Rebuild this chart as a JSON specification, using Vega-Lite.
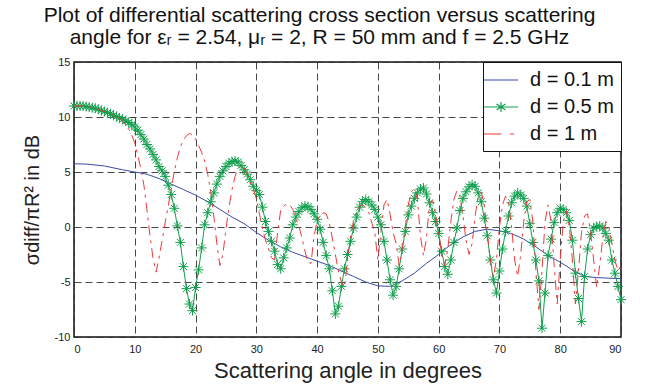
{
"$schema": "https://vega.github.io/schema/vega-lite/v6.json",
"width": 547, "height": 275,
"autosize": "none",
"padding": {"left": 74, "top": 62, "right": 31, "bottom": 48},
"background": "white",
"title": {"text": ["Plot of differential scattering cross section versus scattering", "angle for εᵣ = 2.54, μᵣ = 2, R = 50 mm and f = 2.5 GHz"], "font": "Liberation Sans", "fontSize": 21, "fontWeight": "normal", "color": "#111", "anchor": "middle", "dx": -28, "offset": 8, "lineHeight": 22},
"config": {
  "view": {"stroke": "#111", "strokeWidth": 1.5},
  "axis": {"labelFont": "Liberation Sans", "titleFont": "Liberation Sans", "labelFontSize": 11, "labelColor": "#222", "titleColor": "#222", "titleFontWeight": "normal", "grid": true, "gridColor": "#333", "gridDash": [7, 4], "gridWidth": 1, "gridOpacity": 0.9, "domain": false, "ticks": false},
  "legend": {"orient": "top-right", "offset": 0, "padding": 7, "strokeColor": "#111", "fillColor": "white", "labelFont": "Liberation Sans", "labelFontSize": 20, "labelColor": "#111", "symbolSize": 400, "rowPadding": 6, "labelOffset": 18}
},
"datasets": {
"blue": [
{"angle":0,"value":5.75},{"angle":2,"value":5.72},{"angle":5,"value":5.55},{"angle":8,"value":5.2},{"angle":10,"value":5.0},{"angle":12,"value":4.8},{"angle":14,"value":4.4},{"angle":16,"value":3.9},{"angle":18,"value":3.4},{"angle":20,"value":2.9},{"angle":22,"value":2.3},{"angle":24,"value":1.6},{"angle":26,"value":0.9},{"angle":28,"value":0.3},{"angle":30,"value":-0.5},{"angle":32,"value":-1.2},{"angle":34,"value":-1.8},{"angle":36,"value":-2.3},{"angle":38,"value":-2.7},{"angle":40,"value":-3.1},{"angle":42,"value":-3.5},{"angle":44,"value":-4.0},{"angle":46,"value":-4.5},{"angle":48,"value":-5.0},{"angle":50,"value":-5.35},{"angle":52,"value":-5.4},{"angle":54,"value":-4.9},{"angle":56,"value":-4.2},{"angle":58,"value":-3.3},{"angle":60,"value":-2.5},{"angle":62,"value":-1.6},{"angle":64,"value":-0.9},{"angle":66,"value":-0.4},{"angle":68,"value":-0.2},{"angle":70,"value":-0.35},{"angle":72,"value":-0.6},{"angle":74,"value":-1.1},{"angle":76,"value":-1.8},{"angle":78,"value":-2.6},{"angle":80,"value":-3.2},{"angle":82,"value":-3.9},{"angle":84,"value":-4.5},{"angle":86,"value":-4.6},{"angle":88,"value":-4.65},{"angle":90,"value":-4.7}
],
"green": [
{"angle":0,"value":11.0},{"angle":0.5,"value":11.0},{"angle":1,"value":11.0},{"angle":1.5,"value":11.0},{"angle":2,"value":10.95},{"angle":2.5,"value":10.9},{"angle":3,"value":10.85},{"angle":3.5,"value":10.8},{"angle":4,"value":10.7},{"angle":4.5,"value":10.6},{"angle":5,"value":10.5},{"angle":5.5,"value":10.4},{"angle":6,"value":10.3},{"angle":6.5,"value":10.15},{"angle":7,"value":10.05},{"angle":7.5,"value":9.9},{"angle":8,"value":9.8},{"angle":8.5,"value":9.65},{"angle":9,"value":9.5},{"angle":9.5,"value":9.3},{"angle":10,"value":9.1},{"angle":10.5,"value":8.8},{"angle":11,"value":8.4},{"angle":11.5,"value":8.0},{"angle":12,"value":7.5},{"angle":12.5,"value":7.1},{"angle":13,"value":6.6},{"angle":13.5,"value":6.1},{"angle":14,"value":5.5},{"angle":14.5,"value":5.1},{"angle":15,"value":4.6},{"angle":15.5,"value":3.8},{"angle":16,"value":2.95},{"angle":16.5,"value":1.7},{"angle":17,"value":0.1},{"angle":17.5,"value":-1.4},{"angle":18,"value":-3.6},{"angle":18.5,"value":-5.6},{"angle":19,"value":-7.0},{"angle":19.5,"value":-7.6},{"angle":20,"value":-5.5},{"angle":20.5,"value":-3.9},{"angle":21,"value":-1.9},{"angle":21.5,"value":0.2},{"angle":22,"value":1.3},{"angle":22.5,"value":2.3},{"angle":23,"value":3.1},{"angle":23.5,"value":3.9},{"angle":24,"value":4.6},{"angle":24.5,"value":5.1},{"angle":25,"value":5.5},{"angle":25.5,"value":5.8},{"angle":26,"value":5.95},{"angle":26.5,"value":6.0},{"angle":27,"value":5.9},{"angle":27.5,"value":5.6},{"angle":28,"value":5.2},{"angle":28.5,"value":4.8},{"angle":29,"value":4.3},{"angle":29.5,"value":3.7},{"angle":30,"value":3.3},{"angle":30.5,"value":2.95},{"angle":31,"value":1.8},{"angle":31.5,"value":0.5},{"angle":32,"value":-0.4},{"angle":32.5,"value":-1.3},{"angle":33,"value":-2.2},{"angle":33.5,"value":-3.4},{"angle":34,"value":-3.8},{"angle":34.5,"value":-2.8},{"angle":35,"value":-1.9},{"angle":35.5,"value":-1.0},{"angle":36,"value":0.2},{"angle":36.5,"value":0.9},{"angle":37,"value":1.4},{"angle":37.5,"value":1.75},{"angle":38,"value":1.9},{"angle":38.5,"value":1.85},{"angle":39,"value":1.6},{"angle":39.5,"value":1.2},{"angle":40,"value":0.7},{"angle":40.5,"value":-0.2},{"angle":41,"value":-1.4},{"angle":41.5,"value":-2.6},{"angle":42,"value":-3.8},{"angle":42.5,"value":-5.8},{"angle":43,"value":-7.9},{"angle":43.5,"value":-7.2},{"angle":44,"value":-5.4},{"angle":44.5,"value":-3.8},{"angle":45,"value":-2.5},{"angle":45.5,"value":-1.3},{"angle":46,"value":-0.1},{"angle":46.5,"value":0.9},{"angle":47,"value":1.8},{"angle":47.5,"value":2.3},{"angle":48,"value":2.5},{"angle":48.5,"value":2.3},{"angle":49,"value":2.0},{"angle":49.5,"value":1.6},{"angle":50,"value":0.9},{"angle":50.5,"value":0.2},{"angle":51,"value":-1.3},{"angle":51.5,"value":-3.0},{"angle":52,"value":-4.8},{"angle":52.5,"value":-6.2},{"angle":53,"value":-5.4},{"angle":53.5,"value":-3.8},{"angle":54,"value":-2.0},{"angle":54.5,"value":-0.4},{"angle":55,"value":1.1},{"angle":55.5,"value":1.9},{"angle":56,"value":2.6},{"angle":56.5,"value":3.1},{"angle":57,"value":3.45},{"angle":57.5,"value":3.55},{"angle":58,"value":3.0},{"angle":58.5,"value":2.2},{"angle":59,"value":1.3},{"angle":59.5,"value":0.5},{"angle":60,"value":-0.6},{"angle":60.5,"value":-2.2},{"angle":61,"value":-3.6},{"angle":61.5,"value":-4.3},{"angle":62,"value":-3.0},{"angle":62.5,"value":-1.4},{"angle":63,"value":-0.1},{"angle":63.5,"value":1.5},{"angle":64,"value":2.6},{"angle":64.5,"value":3.2},{"angle":65,"value":3.65},{"angle":65.5,"value":3.85},{"angle":66,"value":3.7},{"angle":66.5,"value":3.1},{"angle":67,"value":2.3},{"angle":67.5,"value":0.8},{"angle":68,"value":-0.8},{"angle":68.5,"value":-3.0},{"angle":69,"value":-4.8},{"angle":69.5,"value":-6.0},{"angle":70,"value":-4.0},{"angle":70.5,"value":-2.0},{"angle":71,"value":-0.4},{"angle":71.5,"value":1.0},{"angle":72,"value":2.2},{"angle":72.5,"value":2.8},{"angle":73,"value":3.1},{"angle":73.5,"value":2.9},{"angle":74,"value":2.6},{"angle":74.5,"value":1.9},{"angle":75,"value":0.3},{"angle":75.5,"value":-1.4},{"angle":76,"value":-3.0},{"angle":76.5,"value":-4.9},{"angle":77,"value":-9.2},{"angle":77.5,"value":-6.0},{"angle":78,"value":-2.6},{"angle":78.5,"value":-1.1},{"angle":79,"value":0.4},{"angle":79.5,"value":1.3},{"angle":80,"value":1.7},{"angle":80.5,"value":1.6},{"angle":81,"value":1.3},{"angle":81.5,"value":0.6},{"angle":82,"value":-1.2},{"angle":82.5,"value":-4.2},{"angle":83,"value":-6.5},{"angle":83.5,"value":-8.6},{"angle":84,"value":-4.5},{"angle":84.5,"value":-2.0},{"angle":85,"value":-0.7},{"angle":85.5,"value":-0.1},{"angle":86,"value":0.05},{"angle":86.5,"value":0.1},{"angle":87,"value":-0.1},{"angle":87.5,"value":-0.6},{"angle":88,"value":-1.2},{"angle":88.5,"value":-3.0},{"angle":89,"value":-4.2},{"angle":89.5,"value":-5.4},{"angle":90,"value":-6.6}
],
"red": [
{"angle":0,"value":11.0},{"angle":0.5,"value":11.0},{"angle":1,"value":11.0},{"angle":1.5,"value":11.0},{"angle":2,"value":10.95},{"angle":2.5,"value":10.9},{"angle":3,"value":10.85},{"angle":3.5,"value":10.8},{"angle":4,"value":10.7},{"angle":4.5,"value":10.6},{"angle":5,"value":10.5},{"angle":5.5,"value":10.4},{"angle":6,"value":10.3},{"angle":6.5,"value":10.15},{"angle":7,"value":10.0},{"angle":7.5,"value":9.9},{"angle":8,"value":9.6},{"angle":8.5,"value":9.3},{"angle":9,"value":8.9},{"angle":9.5,"value":8.4},{"angle":10,"value":7.6},{"angle":10.5,"value":6.5},{"angle":11,"value":5.3},{"angle":11.5,"value":3.8},{"angle":12,"value":1.6},{"angle":12.5,"value":-0.8},{"angle":13,"value":-2.8},{"angle":13.5,"value":-4.1},{"angle":14,"value":-2.8},{"angle":14.5,"value":-1.2},{"angle":15,"value":0.4},{"angle":15.5,"value":1.9},{"angle":16,"value":3.5},{"angle":16.5,"value":5.0},{"angle":17,"value":6.3},{"angle":17.5,"value":7.3},{"angle":18,"value":7.9},{"angle":18.5,"value":8.3},{"angle":19,"value":8.5},{"angle":19.5,"value":8.4},{"angle":20,"value":8.0},{"angle":20.5,"value":7.4},{"angle":21,"value":6.8},{"angle":21.5,"value":6.0},{"angle":22,"value":4.8},{"angle":22.5,"value":3.2},{"angle":23,"value":1.0},{"angle":23.5,"value":-1.5},{"angle":24,"value":-3.5},{"angle":24.5,"value":-2.5},{"angle":25,"value":-0.2},{"angle":25.5,"value":1.8},{"angle":26,"value":3.4},{"angle":26.5,"value":4.6},{"angle":27,"value":5.3},{"angle":27.5,"value":5.6},{"angle":28,"value":5.4},{"angle":28.5,"value":4.8},{"angle":29,"value":4.0},{"angle":29.5,"value":3.5},{"angle":30,"value":2.6},{"angle":30.5,"value":1.2},{"angle":31,"value":-0.1},{"angle":31.5,"value":-1.2},{"angle":32,"value":-2.0},{"angle":32.5,"value":-2.8},{"angle":33,"value":-3.0},{"angle":33.5,"value":-0.5},{"angle":34,"value":1.5},{"angle":34.5,"value":1.9},{"angle":35,"value":2.1},{"angle":35.5,"value":2.0},{"angle":36,"value":1.6},{"angle":36.5,"value":0.8},{"angle":37,"value":0.1},{"angle":37.5,"value":-1.0},{"angle":38,"value":-2.2},{"angle":38.5,"value":-3.2},{"angle":39,"value":-3.3},{"angle":39.5,"value":-0.8},{"angle":40,"value":0.5},{"angle":40.5,"value":1.1},{"angle":41,"value":1.3},{"angle":41.5,"value":1.2},{"angle":42,"value":0.4},{"angle":42.5,"value":-1.0},{"angle":43,"value":-2.5},{"angle":43.5,"value":-4.0},{"angle":44,"value":-5.0},{"angle":44.5,"value":-5.5},{"angle":45,"value":-3.0},{"angle":45.5,"value":-0.9},{"angle":46,"value":0.6},{"angle":46.5,"value":1.4},{"angle":47,"value":1.9},{"angle":47.5,"value":2.0},{"angle":48,"value":1.8},{"angle":48.5,"value":1.3},{"angle":49,"value":0.4},{"angle":49.5,"value":-0.6},{"angle":50,"value":-3.0},{"angle":50.5,"value":-0.5},{"angle":51,"value":2.0},{"angle":51.5,"value":2.5},{"angle":52,"value":1.2},{"angle":52.5,"value":-0.5},{"angle":53,"value":-1.5},{"angle":53.5,"value":-3.5},{"angle":54,"value":-2.0},{"angle":54.5,"value":0.0},{"angle":55,"value":2.0},{"angle":55.5,"value":3.2},{"angle":56,"value":3.5},{"angle":56.5,"value":2.5},{"angle":57,"value":-0.8},{"angle":57.5,"value":-2.6},{"angle":58,"value":-1.0},{"angle":58.5,"value":2.2},{"angle":59,"value":2.4},{"angle":59.5,"value":1.2},{"angle":60,"value":-0.5},{"angle":60.5,"value":-2.5},{"angle":61,"value":-3.5},{"angle":61.5,"value":-2.0},{"angle":62,"value":0.5},{"angle":62.5,"value":2.5},{"angle":63,"value":3.3},{"angle":63.5,"value":2.8},{"angle":64,"value":1.0},{"angle":64.5,"value":-1.2},{"angle":65,"value":-2.5},{"angle":65.5,"value":-1.5},{"angle":66,"value":1.0},{"angle":66.5,"value":2.8},{"angle":67,"value":3.2},{"angle":67.5,"value":2.0},{"angle":68,"value":-0.5},{"angle":68.5,"value":-3.0},{"angle":69,"value":-4.5},{"angle":69.5,"value":-3.0},{"angle":70,"value":0.0},{"angle":70.5,"value":2.0},{"angle":71,"value":2.8},{"angle":71.5,"value":2.2},{"angle":72,"value":0.0},{"angle":72.5,"value":-3.0},{"angle":73,"value":-4.5},{"angle":73.5,"value":-2.5},{"angle":74,"value":0.5},{"angle":74.5,"value":2.3},{"angle":75,"value":2.5},{"angle":75.5,"value":0.5},{"angle":76,"value":-4.0},{"angle":76.5,"value":-7.5},{"angle":77,"value":-4.0},{"angle":77.5,"value":0.5},{"angle":78,"value":2.0},{"angle":78.5,"value":0.5},{"angle":79,"value":-3.5},{"angle":79.5,"value":-7.0},{"angle":80,"value":-3.0},{"angle":80.5,"value":0.5},{"angle":81,"value":1.5},{"angle":81.5,"value":0.0},{"angle":82,"value":-3.0},{"angle":82.5,"value":-7.0},{"angle":83,"value":-4.0},{"angle":83.5,"value":-0.5},{"angle":84,"value":1.0},{"angle":84.5,"value":1.2},{"angle":85,"value":-0.5},{"angle":85.5,"value":-3.0},{"angle":86,"value":-5.5},{"angle":86.5,"value":-3.5},{"angle":87,"value":-1.0},{"angle":87.5,"value":0.5},{"angle":88,"value":0.0},{"angle":88.5,"value":-1.5},{"angle":89,"value":-3.0},{"angle":89.5,"value":-4.0},{"angle":90,"value":-3.5}
]
},
"encoding": {
  "x": {"field": "angle", "type": "quantitative", "scale": {"domain": [0, 90], "nice": false}, "axis": {"values": [0,10,20,30,40,50,60,70,80,90], "title": "Scattering angle in degrees", "titleFontSize": 22, "titlePadding": 6, "labelPadding": 6, "labelExpr": "toString(datum.value)"}},
  "y": {"field": "value", "type": "quantitative", "scale": {"domain": [-10, 15], "nice": false}, "axis": {"values": [-10,-5,0,5,10,15], "title": "σdiff/πR² in dB", "titleFontSize": 20, "titlePadding": 12, "labelPadding": 4, "labelExpr": "toString(datum.value)"}}
},
"layer": [
  {"data": {"name": "blue"}, "transform": [{"calculate": "'d = 0.1 m'", "as": "series"}], "mark": {"type": "line", "strokeWidth": 1},
   "encoding": {"color": {"field": "series", "type": "nominal", "scale": {"domain": ["d = 0.1 m", "d = 0.5 m", "d = 1 m"], "range": ["#3b4ba6", "#12a04e", "#f0393c"]}, "legend": {"title": null, "encode": {"symbols": {"update": {"shape": {"signal": "datum.value === 'd = 0.1 m' ? 'M-1.7,0L1.7,0' : datum.value === 'd = 0.5 m' ? 'M-1.7,0L1.7,0M0,-0.5L0,0.5M-0.45,-0.3L0.45,0.3M-0.45,0.3L0.45,-0.3' : 'M-1.7,0L0.05,0M0.9,0L1.3,0'"}, "size": {"value": 400}, "strokeWidth": {"value": 1.2}, "fill": {"value": "transparent"}}}}}}}},
  {"data": {"name": "green"}, "transform": [{"calculate": "'d = 0.5 m'", "as": "series"}], "mark": {"type": "line", "strokeWidth": 1},
   "encoding": {"color": {"field": "series", "type": "nominal"}}},
  {"data": {"name": "green"}, "mark": {"type": "point", "shape": "M-1,0L1,0M0,-1L0,1M-0.7,-0.7L0.7,0.7M-0.7,0.7L0.7,-0.7", "filled": false, "size": 100, "strokeWidth": 1, "color": "#12a04e", "opacity": 1}},
  {"data": {"name": "red"}, "transform": [{"calculate": "'d = 1 m'", "as": "series"}], "mark": {"type": "line", "strokeWidth": 1, "strokeDash": [10, 5, 3, 5]},
   "encoding": {"color": {"field": "series", "type": "nominal"}}}
]
}
